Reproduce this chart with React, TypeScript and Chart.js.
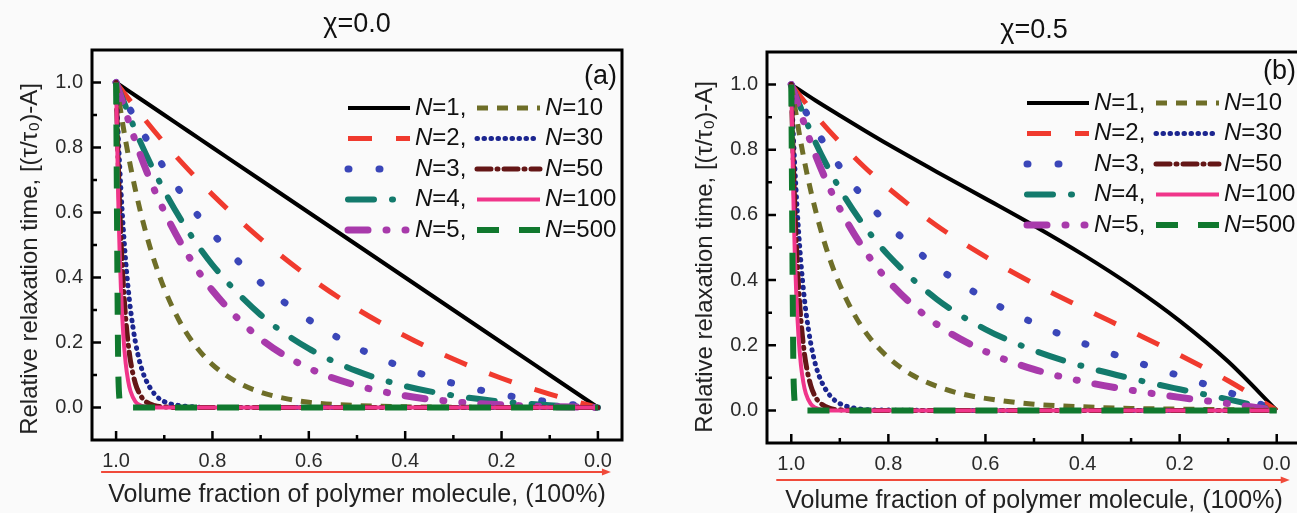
import React, { useEffect, useRef } from 'react';
import { Chart, registerables } from 'chart.js';

Chart.register(...registerables);

// ---------- data ----------
const seriesN = ['1', '2', '3', '4', '5', '10', '30', '50', '100', '500'];

// volume fraction of polymer (x)
const phiCoarse = [1.0, 0.95, 0.9, 0.85, 0.8, 0.7, 0.6, 0.5, 0.4, 0.3, 0.2, 0.1, 0.0];
const phiMid = [1.0, 0.98, 0.96, 0.94, 0.92, 0.9, 0.87, 0.84, 0.8, 0.75, 0.7, 0.65, 0.6, 0.5, 0.4, 0.3, 0.2, 0.1, 0.0];
const phiFine = [1.0, 0.995, 0.99, 0.985, 0.98, 0.975, 0.97, 0.96, 0.95, 0.94, 0.92, 0.9, 0.87, 0.84, 0.8, 0.7, 0.5, 0.3, 0.0];

// chi = 0.0
const a_N1 = [1.0, 0.95, 0.9, 0.85, 0.8, 0.7, 0.6, 0.5, 0.4, 0.3, 0.2, 0.1, 0.0];
const a_N2 = [1.0, 0.904, 0.814, 0.732, 0.655, 0.519, 0.402, 0.303, 0.22, 0.149, 0.09, 0.041, 0.0];
const a_N3 = [1.0, 0.86, 0.737, 0.63, 0.536, 0.384, 0.27, 0.184, 0.121, 0.074, 0.04, 0.017, 0.0];
const a_N4 = [1.0, 0.818, 0.667, 0.542, 0.439, 0.285, 0.181, 0.112, 0.066, 0.037, 0.018, 0.007, 0.0];
const a_N5 = [1.0, 0.778, 0.603, 0.467, 0.36, 0.211, 0.121, 0.068, 0.036, 0.018, 0.008, 0.003, 0.0];
const a_N10 = [1.0, 0.819, 0.67, 0.548, 0.448, 0.366, 0.27, 0.199, 0.132, 0.079, 0.047, 0.028, 0.016, 0.006, 0.002, 0.001, 0.0, 0.0, 0.0];
const a_N30 = [1.0, 0.819, 0.67, 0.549, 0.449, 0.368, 0.301, 0.202, 0.135, 0.091, 0.041, 0.018, 0.006, 0.002, 0.0, 0.0, 0.0, 0.0, 0.0];
const a_N50 = [1.0, 0.723, 0.522, 0.377, 0.273, 0.197, 0.142, 0.074, 0.039, 0.02, 0.006, 0.002, 0.0, 0.0, 0.0, 0.0, 0.0, 0.0, 0.0];
const a_N100 = [1.0, 0.607, 0.368, 0.223, 0.135, 0.082, 0.05, 0.018, 0.007, 0.003, 0.0, 0.0, 0.0, 0.0, 0.0, 0.0, 0.0, 0.0, 0.0];
const a_N500 = [1.0, 0.082, 0.007, 0.001, 0.0, 0.0, 0.0, 0.0, 0.0, 0.0, 0.0, 0.0, 0.0, 0.0, 0.0, 0.0, 0.0, 0.0, 0.0];

// chi = 0.5
const b_N1 = [1.0, 0.951, 0.905, 0.86, 0.816, 0.732, 0.65, 0.567, 0.479, 0.383, 0.275, 0.15, 0.0];
const b_N2 = [1.0, 0.906, 0.823, 0.748, 0.682, 0.567, 0.472, 0.389, 0.315, 0.243, 0.17, 0.091, 0.0];
const b_N3 = [1.0, 0.863, 0.748, 0.651, 0.57, 0.44, 0.343, 0.268, 0.207, 0.154, 0.106, 0.056, 0.0];
const b_N4 = [1.0, 0.822, 0.68, 0.567, 0.476, 0.341, 0.249, 0.184, 0.136, 0.098, 0.065, 0.034, 0.0];
const b_N5 = [1.0, 0.783, 0.619, 0.494, 0.397, 0.264, 0.181, 0.126, 0.089, 0.062, 0.04, 0.021, 0.0];
const b_N10 = [1.0, 0.82, 0.675, 0.558, 0.462, 0.385, 0.294, 0.226, 0.162, 0.108, 0.074, 0.051, 0.037, 0.019, 0.011, 0.006, 0.004, 0.002, 0.0];
const b_N30 = [1.0, 0.819, 0.671, 0.551, 0.452, 0.371, 0.305, 0.207, 0.14, 0.096, 0.045, 0.021, 0.007, 0.002, 0.001, 0.0, 0.0, 0.0, 0.0];
const b_N50 = [1.0, 0.723, 0.523, 0.379, 0.275, 0.2, 0.145, 0.077, 0.041, 0.022, 0.006, 0.002, 0.0, 0.0, 0.0, 0.0, 0.0, 0.0, 0.0];
const b_N100 = [1.0, 0.607, 0.37, 0.226, 0.138, 0.085, 0.052, 0.02, 0.008, 0.003, 0.0, 0.0, 0.0, 0.0, 0.0, 0.0, 0.0, 0.0, 0.0];
const b_N500 = [1.0, 0.083, 0.007, 0.001, 0.0, 0.0, 0.0, 0.0, 0.0, 0.0, 0.0, 0.0, 0.0, 0.0, 0.0, 0.0, 0.0, 0.0, 0.0];

const seriesPhi = [phiCoarse, phiCoarse, phiCoarse, phiCoarse, phiCoarse, phiMid, phiFine, phiFine, phiFine, phiFine];
const panelAValues = [a_N1, a_N2, a_N3, a_N4, a_N5, a_N10, a_N30, a_N50, a_N100, a_N500];
const panelBValues = [b_N1, b_N2, b_N3, b_N4, b_N5, b_N10, b_N30, b_N50, b_N100, b_N500];

const xTickValues = [1.0, 0.8, 0.6, 0.4, 0.2, 0.0];
const xMinorValues = [0.9, 0.7, 0.5, 0.3, 0.1];
const yTickValues = [0.0, 0.2, 0.4, 0.6, 0.8, 1.0];
const yMinorValues = [0.1, 0.3, 0.5, 0.7, 0.9];

// ---------- styles ----------
const colors = ['#000000', '#f03a2e', '#3a46b8', '#137a6c', '#a83aab', '#6e6e28', '#1c2690', '#641616', '#f0358a', '#10782e'];
const widths = [4, 5, 7, 6, 7, 5, 5, 5, 4, 6];
const dashes: number[][] = [[], [24, 24], [1, 30], [26, 18, 1, 18], [20, 18, 1, 18, 1, 18], [11, 9], [0.5, 6.5], [14, 6, 1, 6], [], [22, 20]];
const caps = ['butt', 'butt', 'round', 'round', 'round', 'butt', 'round', 'round', 'butt', 'butt'];
const FONT = '"Liberation Sans", Arial, Helvetica, sans-serif';

const W = 1297;
const H = 513;

type PanelCfg = {
  title: string;
  tag: string;
  values: number[][];
  canvasLeft: number;
  canvasWidth: number;
  chartLeft: number;
  chartRight: number;
  chartTop: number;
  chartBottom: number;
  titleY: number;
  yTitleX: number;
  yTitleY: number;
  arrowY: number;
  xTitleY: number;
  tagY: number;
  legendY: number;
};

const panels: PanelCfg[] = [
  {
    title: 'χ=0.0', tag: '(a)', values: panelAValues,
    canvasLeft: 0, canvasWidth: 650, chartLeft: 92, chartRight: 622, chartTop: 50, chartBottom: 440,
    titleY: 25, yTitleX: 30, yTitleY: 259, arrowY: 472, xTitleY: 502, tagY: 77, legendY: 108,
  },
  {
    title: 'χ=0.5', tag: '(b)', values: panelBValues,
    canvasLeft: 650, canvasWidth: 680, chartLeft: 117, chartRight: 651, chartTop: 52, chartBottom: 443,
    titleY: 31, yTitleX: 55, yTitleY: 257, arrowY: 480, xTitleY: 508, tagY: 72, legendY: 103,
  },
];

function makeDecor(cfg: PanelCfg) {
  return {
    id: 'decor',
    afterDraw(chart: any) {
      const ctx = chart.ctx as CanvasRenderingContext2D;
      const a = chart.chartArea;
      const xs = chart.scales.x;
      const ys = chart.scales.y;
      ctx.save();
      // frame
      ctx.setLineDash([]);
      ctx.strokeStyle = '#000';
      ctx.lineWidth = 3;
      ctx.strokeRect(a.left, a.top, a.right - a.left, a.bottom - a.top);
      // ticks (inward)
      ctx.lineWidth = 2.5;
      ctx.beginPath();
      xTickValues.forEach((v) => { const p = xs.getPixelForValue(v); ctx.moveTo(p, a.bottom); ctx.lineTo(p, a.bottom - 9); });
      xMinorValues.forEach((v) => { const p = xs.getPixelForValue(v); ctx.moveTo(p, a.bottom); ctx.lineTo(p, a.bottom - 5); });
      yTickValues.forEach((v) => { const p = ys.getPixelForValue(v); ctx.moveTo(a.left, p); ctx.lineTo(a.left + 9, p); });
      yMinorValues.forEach((v) => { const p = ys.getPixelForValue(v); ctx.moveTo(a.left, p); ctx.lineTo(a.left + 5, p); });
      ctx.stroke();

      // title
      ctx.fillStyle = '#111';
      ctx.textAlign = 'center';
      ctx.textBaseline = 'middle';
      ctx.font = `27px ${FONT}`;
      ctx.fillText(cfg.title, (a.left + a.right) / 2, cfg.titleY);

      // tag
      ctx.textAlign = 'right';
      ctx.font = `27px ${FONT}`;
      ctx.fillText(cfg.tag, a.right - 5, cfg.tagY);

      // y title
      ctx.save();
      ctx.translate(cfg.yTitleX, cfg.yTitleY);
      ctx.rotate(-Math.PI / 2);
      ctx.textAlign = 'center';
      ctx.font = `24px ${FONT}`;
      ctx.fillStyle = '#222';
      ctx.fillText('Relative relaxation time, [(τ/τ₀)-A]', 0, 0);
      ctx.restore();

      // arrow
      const x0 = xs.getPixelForValue(1.0) - 15;
      const x1 = xs.getPixelForValue(0.0) + 13;
      ctx.strokeStyle = '#f04a3a';
      ctx.fillStyle = '#f04a3a';
      ctx.lineWidth = 2;
      ctx.beginPath();
      ctx.moveTo(x0, cfg.arrowY);
      ctx.lineTo(x1 - 6, cfg.arrowY);
      ctx.stroke();
      ctx.beginPath();
      ctx.moveTo(x1, cfg.arrowY);
      ctx.lineTo(x1 - 9, cfg.arrowY - 3.5);
      ctx.lineTo(x1 - 9, cfg.arrowY + 3.5);
      ctx.closePath();
      ctx.fill();

      // x title
      ctx.fillStyle = '#222';
      ctx.textAlign = 'center';
      ctx.textBaseline = 'alphabetic';
      ctx.font = `25px ${FONT}`;
      ctx.fillText('Volume fraction of polymer molecule, (100%)', (a.left + a.right) / 2, cfg.xTitleY);

      // legend
      const ds = chart.data.datasets;
      ds.forEach((d: any, i: number) => {
        const col = i < 5 ? 0 : 1;
        const row = i % 5;
        const y = cfg.legendY + row * 30.5;
        const sx = col === 0 ? a.right - 274 : a.right - 145;
        const len = col === 0 ? 62 : 63;
        const tx = col === 0 ? a.right - 207 : a.right - 77;
        ctx.save();
        ctx.strokeStyle = d.borderColor;
        ctx.lineWidth = d.borderWidth;
        ctx.lineCap = d.borderCapStyle;
        ctx.setLineDash(d.borderDash || []);
        ctx.beginPath();
        ctx.moveTo(sx, y);
        ctx.lineTo(sx + len, y);
        ctx.stroke();
        ctx.restore();
        ctx.fillStyle = '#111';
        ctx.textAlign = 'left';
        ctx.textBaseline = 'middle';
        ctx.font = `italic 24px ${FONT}`;
        ctx.fillText('N', tx, y);
        const nw = ctx.measureText('N').width;
        ctx.font = `24px ${FONT}`;
        ctx.fillText('=' + seriesN[i] + (col === 0 ? ',' : ''), tx + nw, y);
      });
      ctx.restore();
    },
  };
}

function Panel({ cfg }: { cfg: PanelCfg }) {
  const ref = useRef<HTMLCanvasElement | null>(null);
  useEffect(() => {
    if (!ref.current) return;
    const datasets = cfg.values.map((vals, i) => ({
      label: 'N=' + seriesN[i],
      data: seriesPhi[i].map((x, k) => ({ x, y: vals[k] })),
      borderColor: colors[i],
      backgroundColor: colors[i],
      borderWidth: widths[i],
      borderDash: dashes[i],
      borderCapStyle: caps[i],
      borderJoinStyle: 'round',
      pointRadius: 0,
      fill: false,
      cubicInterpolationMode: 'monotone',
      order: 9 - i,
    }));
    const tickFont = { family: FONT, size: 20 };
    const chart = new Chart(ref.current, {
      type: 'line',
      data: { datasets } as any,
      options: {
        animation: false,
        responsive: false,
        maintainAspectRatio: false,
        events: [],
        layout: { padding: { top: cfg.chartTop, right: cfg.canvasWidth - cfg.chartRight, left: 0, bottom: 0 } },
        plugins: { legend: { display: false }, tooltip: { enabled: false }, title: { display: false } },
        scales: {
          x: {
            type: 'linear',
            reverse: true,
            min: -0.05,
            max: 1.05,
            afterBuildTicks: (s: any) => { s.ticks = xTickValues.map((v) => ({ value: v })); },
            afterFit: (s: any) => { s.height = H - cfg.chartBottom; },
            ticks: { font: tickFont, color: '#2a2a2a', padding: 9, maxRotation: 0, autoSkip: false, callback: (v: any) => Number(v).toFixed(1) },
            grid: { display: false, drawTicks: false },
            border: { display: false },
          },
          y: {
            type: 'linear',
            min: -0.1,
            max: 1.1,
            afterBuildTicks: (s: any) => { s.ticks = yTickValues.map((v) => ({ value: v })); },
            afterFit: (s: any) => { s.width = cfg.chartLeft; },
            ticks: { font: tickFont, color: '#2a2a2a', padding: 9, autoSkip: false, callback: (v: any) => Number(v).toFixed(1) },
            grid: { display: false, drawTicks: false },
            border: { display: false },
          },
        },
      } as any,
      plugins: [makeDecor(cfg)],
    });
    return () => chart.destroy();
  }, [cfg]);
  return (
    <canvas
      ref={ref}
      width={cfg.canvasWidth}
      height={H}
      style={{ position: 'absolute', left: cfg.canvasLeft, top: 0, width: cfg.canvasWidth, height: H }}
    />
  );
}

export default function App() {
  return (
    <div style={{ position: 'fixed', left: 0, top: 0, width: W, height: H, overflow: 'hidden', background: '#fafafa' }}>
      {panels.map((p) => <Panel key={p.tag} cfg={p} />)}
    </div>
  );
}
